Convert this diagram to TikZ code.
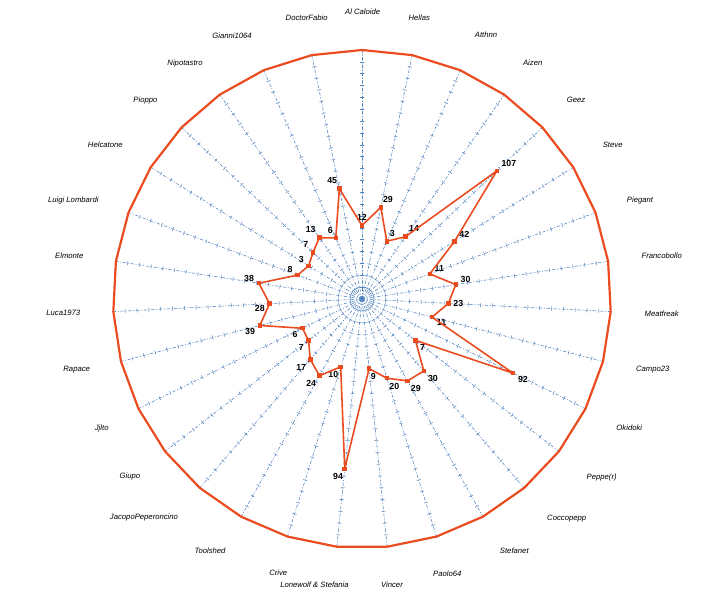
\documentclass[tikz,border=0pt]{standalone}
\usepackage{fontspec}
\newfontfamily\chartfont{Liberation Sans}
\definecolor{spokeblue}{RGB}{79,129,189}
\definecolor{radarred}{RGB}{234,76,32}
\begin{document}
\begin{tikzpicture}[x=1pt,y=1pt,line join=round,line cap=round,label distance=1pt]
	\tikzset{spoke/.style={spokeblue,line width=0.55pt,dash pattern=on 3pt off 2pt on 0.7pt off 2pt},
		tickmark/.style={spokeblue,line width=0.45pt},
		rim/.style={radarred,line width=2.2pt},
		dataline/.style={radarred,line width=1.6pt},
		marker/.style={fill=radarred,inner sep=0pt,minimum size=4.5pt},
		vallbl/.style={font=\chartfont\bfseries\fontsize{8.8}{10}\selectfont,inner sep=1.3pt},
		catlbl/.style={font=\chartfont\itshape\fontsize{7.7}{9}\selectfont,inner sep=0pt}}
	\useasboundingbox (-362,-301) rectangle (342,299);
	\coordinate (O) at (0,0);
	% 31 spokes, a tick every 10 (scale -50..160)
	\foreach \i in {0,...,30} {
		\pgfmathsetmacro\a{90-\i*360/31}
		\coordinate (o\i) at (\a:249);
		\draw[spoke] (O) -- (o\i);
		\begin{scope}[rotate=\a]
			\foreach \k in {1,...,20}
				\draw[tickmark] ({\k*249/21},-2) -- ({\k*249/21},2);
		\end{scope}
	}
	\draw[rim] (o0) \foreach \i in {1,...,30} {-- (o\i)} -- cycle;
	% data
	\foreach \v [count=\i from 0] in {12,29,3,14,107,42,11,30,23,11,92,7,30,29,20,9,94,10,24,17,7,6,39,28,38,8,3,7,13,6,45} {
		\pgfmathsetmacro\a{90-\i*360/31}
		\pgfmathsetmacro\rad{(\v+50)*1.1857}
		\node[marker,label={[vallbl]\a:\v}] (p\i) at (\a:\rad) {};
	}
	\draw[dataline] (p0.center) \foreach \i in {1,...,30} {-- (p\i.center)} -- cycle;
	% names
	\foreach \name/\px/\py [count=\i from 0] in {Al Caloide/362.7/11.7, Hellas/419.3/17.3, Atthnn/486/35,
		Aizen/532.7/62.3, Geez/576/100, Steve/612.7/145, Piegant/640/201, Francobollo/661.7/256,
		Meatfreak/661.7/313.3, Campo23/652.7/370, Okidoki/629.3/427.7, Peppe(r)/601.7/477.3,
		Coccopepp/566.7/518.3, Stefanet/514.3/550.7, Paolo64/447.3/573.3, Vincer/392/585,
		Lonewolf \& Stefania/314.5/585, Crive/278.3/572.7, Toolshed/210/550.7,
		JacopoPeperoncino/144/517.7, Giupo/130/476.7, Jjlto/101.7/428.3, Rapace/76.7/370,
		Luca1973/63.3/313.3, Elmonte/69.3/256, Luigi Lombardi/73.3/201, Helcatone/105.3/145,
		Pioppo/145.4/100.9, Nipotastro/185/63.5, Gianni1064/232/36, DoctorFabio/306.7/17.7}
		\node[catlbl] (c\i) at ({\px-362},{299-\py}) {\name};
\end{tikzpicture}
\end{document}
